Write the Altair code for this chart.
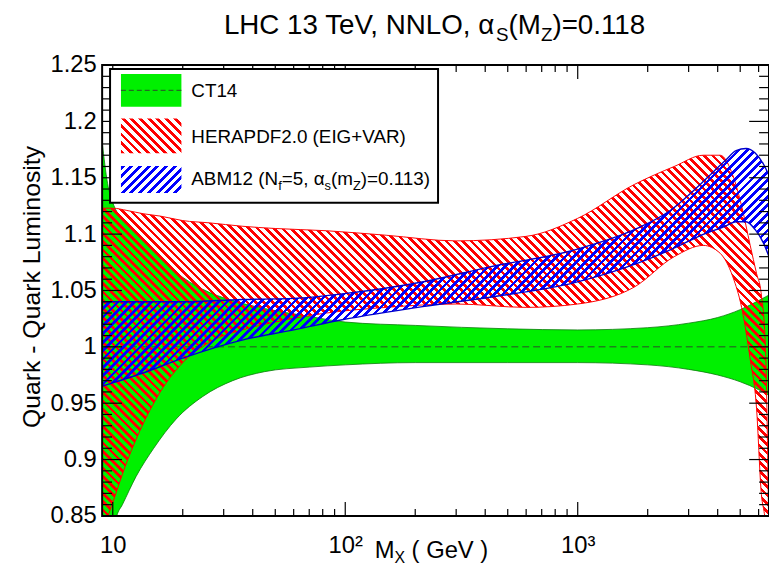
import math
import pandas as pd
import altair as alt

FONT = "Liberation Sans"

# ---------------- data ----------------
ct14_M = [9, 9.5, 10, 10.4, 11, 12.6, 15, 18.75, 24.4, 32.8, 45, 70, 100, 200, 500,
          1000, 2000, 3000, 4000, 5000, 6000, 6650]
ct14_hi = [1.182, 1.145, 1.128, 1.12, 1.113, 1.101, 1.085, 1.066, 1.051, 1.041, 1.034,
           1.027, 1.022, 1.019, 1.016, 1.015, 1.017, 1.021, 1.026, 1.033, 1.041, 1.046]
ct14_lo = [0.80, 0.815, 0.835, 0.85, 0.86, 0.885, 0.910, 0.936, 0.956, 0.970, 0.978,
           0.982, 0.984, 0.986, 0.986, 0.986, 0.984, 0.980, 0.975, 0.969, 0.962, 0.957]

hera_M = [9, 10, 11.5, 13.6, 16, 20, 26, 36, 50, 83, 150, 300, 600, 1000, 1750, 2600,
          3470, 4100, 4650, 5070, 5520, 5880, 6150, 6420, 6650]
hera_hi = [1.123, 1.123, 1.121, 1.118, 1.116, 1.112, 1.110, 1.107, 1.105, 1.103, 1.099,
           1.094, 1.098, 1.114, 1.144, 1.160, 1.170, 1.170, 1.152, 1.125, 1.090, 1.065,
           1.048, 1.000, 0.82]
hera_lo = [0.835, 0.862, 0.898, 0.933, 0.96, 0.986, 1.004, 1.015, 1.022, 1.030, 1.035,
           1.038, 1.035, 1.038, 1.053, 1.080, 1.090, 1.083, 1.062, 1.035, 0.989, 0.945,
           0.872, 0.842, 0.78]

abm_M = [9, 10, 13.6, 20, 36, 60, 97, 220, 420, 970, 1800, 2500, 3400, 4300, 4800, 5300,
         5800, 6300, 6650]
abm_hi = [1.040, 1.040, 1.040, 1.040, 1.042, 1.043, 1.047, 1.058, 1.071, 1.086, 1.105,
          1.121, 1.145, 1.165, 1.174, 1.176, 1.172, 1.162, 1.152]
abm_lo = [0.965, 0.968, 0.977, 0.990, 1.006, 1.015, 1.024, 1.036, 1.044, 1.057, 1.074,
          1.086, 1.099, 1.107, 1.111, 1.111, 1.104, 1.092, 1.080]

ct14_central = 1.0

series_names = ["CT14", "HERAPDF2.0 (EIG+VAR)", "ABM12"]

x_major = [10, 100, 1000]
x_minor = [k * 10 ** e for e in (1, 2, 3) for k in range(2, 10) if k * 10 ** e <= 6650]
y_major = [0.85, 0.9, 0.95, 1.0, 1.05, 1.1, 1.15, 1.2, 1.25]
y_minor = [round(0.85 + 0.01 * i, 2) for i in range(41) if i % 5 != 0]

# ---------------- geometry ----------------
W, H = 673, 455
XMIN, XMAX = 9, 6650
YMIN, YMAX = 0.85, 1.25


def py(v):
    return H * (YMAX - v) / (YMAX - YMIN)


xs = alt.Scale(type="log", domain=[XMIN, XMAX], nice=False)
ys = alt.Scale(domain=[YMIN, YMAX], nice=False, zero=False)

x_axis = alt.Axis(values=x_major, ticks=False, domain=False, grid=False, title=None,
                  labelFont=FONT, labelFontSize=24, labelColor="black", labelPadding=18,
                  labelFlush=False, labelOverlap=False,
                  labelExpr="datum.value == 10 ? '10' : datum.value == 100 ? '10\u00b2' : '10\u00b3'")
y_axis = alt.Axis(values=y_major, ticks=False, domain=False, grid=False, title=None,
                  labelFont=FONT, labelFontSize=24, labelColor="black", labelPadding=6,
                  labelFlush=False, labelOverlap=False, format="~g")


def X(field):
    return alt.X(field, type="quantitative", scale=xs, axis=x_axis)


def Y(field):
    return alt.Y(field, type="quantitative", scale=ys, axis=y_axis)


SQ2 = math.sqrt(2)


def hatch(color, wb, hb, spacing, duty, back=True):
    r = hb / wb
    k = 1 + r * r
    if back:
        x1, y1, x2, y2 = -r / k, r * r / k, 1 / k, -r / k
    else:
        x1, y1, x2, y2 = 0.0, 0.0, (1 + r) / k, r * (1 + r) / k
    n = max(1, round(wb * (1 + r) / (SQ2 * spacing)))
    clear = "rgba(255,255,255,0)"
    stops = []
    for i in range(n):
        a = i / n
        b = (i + duty) / n
        c = (i + 1) / n
        stops += [(a, color), (b, color), (b, clear), (c, clear)]
    return alt.LinearGradient(
        gradient="linear",
        stops=[alt.GradientStop(offset=round(o, 6), color=col) for o, col in stops],
        x1=x1, y1=y1, x2=x2, y2=y2)


ct14_df = pd.DataFrame({"M": ct14_M, "hi": ct14_hi, "lo": ct14_lo})
hera_df = pd.DataFrame({"M": hera_M, "hi": hera_hi, "lo": hera_lo})
abm_df = pd.DataFrame({"M": abm_M, "hi": abm_hi, "lo": abm_lo})
dummy = pd.DataFrame({"d": [0]})

RED = "#ff0000"
BLUE = "#0000ff"
GREEN = "#00f000"

green = alt.Chart(ct14_df).mark_area(
    fill=GREEN, stroke="#0a7a0a", strokeWidth=0.8, opacity=1, clip=True,
    interpolate="monotone").encode(x=X("M"), y=Y("hi"), y2="lo:Q")

central = alt.Chart(dummy).mark_rule(
    stroke="#2a4a2a", strokeWidth=1, strokeDash=[7, 4]).encode(
    y=alt.YDatum(ct14_central, type="quantitative", scale=ys, axis=y_axis))

hera_h = py(min(hera_lo)) - py(max(hera_hi))
red = alt.Chart(hera_df).mark_area(
    fill=hatch(RED, W, hera_h, 6.0, 0.45, back=True), stroke=RED, strokeWidth=1,
    opacity=1, clip=True, interpolate="monotone").encode(x=X("M"), y=Y("hi"), y2="lo:Q")

abm_h = py(min(abm_lo)) - py(max(abm_hi))
blue = alt.Chart(abm_df).mark_area(
    fill=hatch(BLUE, W, abm_h, 6.0, 0.45, back=False), stroke="#0000cc", strokeWidth=1.4,
    opacity=1, clip=True, interpolate="monotone").encode(x=X("M"), y=Y("hi"), y2="lo:Q")

# ---------------- ticks (inward, ROOT style) ----------------
tick_layers = []
for vals, ln in ((x_major, 14), (x_minor, 7)):
    d = pd.DataFrame({"M": vals})
    for y0, y1 in ((H, H - ln), (0, ln)):
        tick_layers.append(alt.Chart(d).mark_rule(stroke="black", strokeWidth=1.2).encode(
            x=X("M"), y=alt.value(y0), y2=alt.value(y1)))
for vals, ln in ((y_major, 20), (y_minor, 10)):
    d = pd.DataFrame({"hi": vals})
    for x0, x1 in ((0, ln), (W, W - ln)):
        tick_layers.append(alt.Chart(d).mark_rule(stroke="black", strokeWidth=1.2).encode(
            y=Y("hi"), x=alt.value(x0), x2=alt.value(x1)))

frame = alt.Chart(dummy).mark_rect(fill="white", fillOpacity=0, stroke="black",
                                   strokeWidth=2).encode(
    x=alt.value(0), x2=alt.value(W), y=alt.value(0), y2=alt.value(H))

# ---------------- text helpers ----------------
AW = {' ': 278, '(': 333, ')': 333, '+': 584, ',': 278, '-': 333, '.': 278, '=': 584,
      'A': 667, 'B': 667, 'C': 722, 'D': 722, 'E': 667, 'F': 611, 'G': 778, 'H': 722,
      'I': 278, 'L': 556, 'M': 833, 'N': 722, 'O': 778, 'P': 667, 'R': 722, 'S': 667,
      'T': 611, 'V': 667, 'X': 667, 'Z': 611, 'a': 556, 'e': 556, 'f': 278, 'm': 833,
      's': 500, 'k': 500, 'r': 333, 'u': 556, '\u03b1': 578}
KERN = {('T', 'e'): -74, ('V', ','): -74, ('e', 'V'): -15}


def tw(s, size):
    w = sum(AW.get(c, 556) for c in s)
    w += sum(KERN.get((a, b), 0) for a, b in zip(s, s[1:]))
    return w / 1000 * size


def text_run(parts, x0, base):
    layers = []
    x = x0
    for txt, size, dy in parts:
        lead = len(txt) - len(txt.lstrip(" "))
        x += tw(" " * lead, size)
        body = txt.lstrip(" ")
        layers.append(alt.Chart(dummy).mark_text(
            align="left", baseline="alphabetic", font=FONT, fontSize=size,
            color="black").encode(x=alt.value(x), y=alt.value(base + dy),
                                  text=alt.value(body)))
        x += tw(body, size)
    return layers


def run_width(parts):
    return sum(tw(t, s) for t, s, _ in parts)


title_parts = [("LHC 13 TeV, NNLO, \u03b1", 28, 0), ("S", 19, 7), ("(M", 28, 0),
               ("Z", 19, 7), (")=0.118", 28, 0)]
title_layers = text_run(title_parts, W / 2 - run_width(title_parts) / 2, -31)

xtitle_parts = [("M", 24, 0), ("X", 16, 6), (" ( GeV )", 24, 0)]
xtitle_layers = text_run(xtitle_parts, 275, 497)

ytitle = alt.Chart(dummy).mark_text(
    angle=270, align="center", baseline="middle", font=FONT, fontSize=25,
    color="black").encode(x=alt.value(-71), y=alt.value(224),
                          text=alt.value("Quark - Quark Luminosity"))

# ---------------- legend ----------------
leg_box = alt.Chart(dummy).mark_rect(fill="white", stroke="black", strokeWidth=2).encode(
    x=alt.value(8), x2=alt.value(339), y=alt.value(4), y2=alt.value(139))
sw_green = alt.Chart(dummy).mark_rect(fill=GREEN).encode(
    x=alt.value(19), x2=alt.value(80), y=alt.value(9), y2=alt.value(42))
sw_green_line = alt.Chart(dummy).mark_rule(
    stroke="#2a4a2a", strokeWidth=1, strokeDash=[5, 3]).encode(
    x=alt.value(19), x2=alt.value(80), y=alt.value(25.5))
sw_red = alt.Chart(dummy).mark_rect(fill=hatch(RED, 61, 35, 6.0, 0.45, back=True)).encode(
    x=alt.value(19), x2=alt.value(80), y=alt.value(54), y2=alt.value(89))
sw_blue = alt.Chart(dummy).mark_rect(fill=hatch(BLUE, 61, 27, 6.0, 0.45, back=False)).encode(
    x=alt.value(19), x2=alt.value(80), y=alt.value(102), y2=alt.value(129))

leg_text = []
leg_text += text_run([(series_names[0], 19, 0)], 90, 32)
leg_text += text_run([(series_names[1], 19, 0)], 90, 79)
leg_text += text_run([(series_names[2] + " (N", 19, 0), ("f", 13, 5), ("=5, \u03b1", 19, 0),
                      ("s", 13, 5), ("(m", 19, 0), ("Z", 13, 5), (")=0.113)", 19, 0)], 90, 121)

chart = alt.layer(
    green, central, red, blue, *tick_layers, frame,
    leg_box, sw_green, sw_green_line, sw_red, sw_blue, *leg_text,
    *title_layers, *xtitle_layers, ytitle
).properties(
    width=W, height=H,
    autosize=alt.AutoSizeParams(type="none"),
    padding={"left": 95, "top": 55, "right": 0, "bottom": 50},
    background="white",
).configure_view(stroke="transparent")

chart.save("out.html", embed_options={"renderer": "svg", "actions": False})
